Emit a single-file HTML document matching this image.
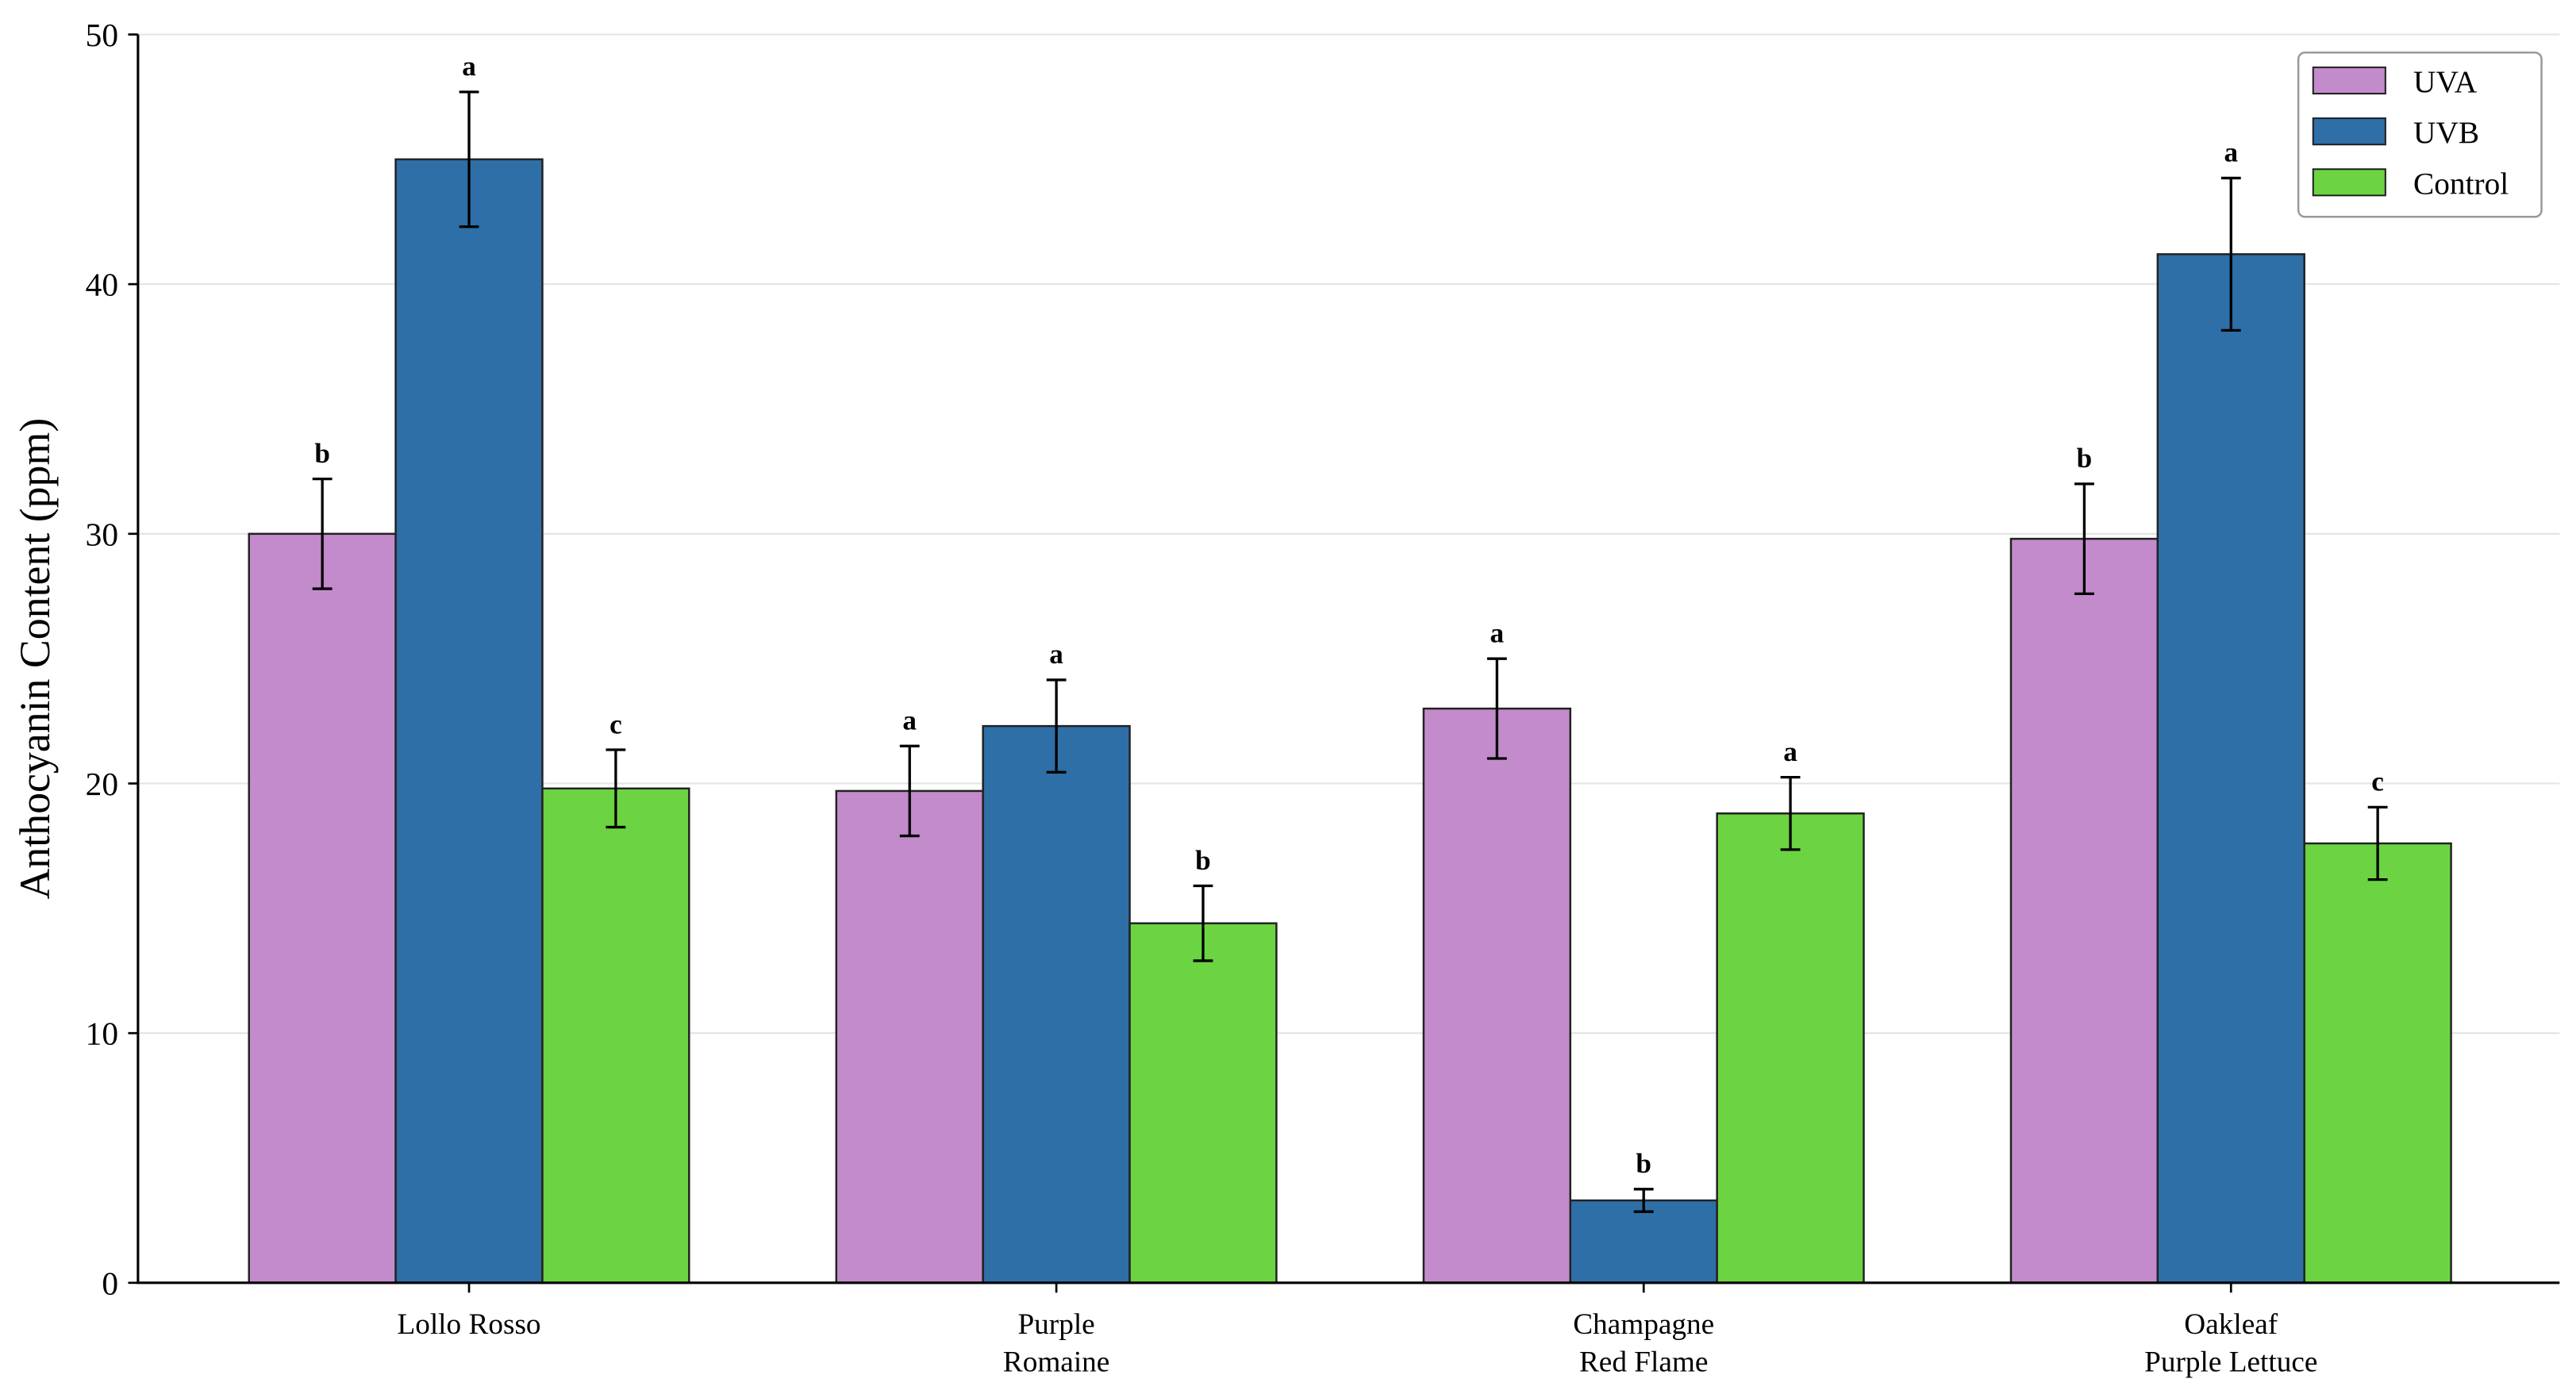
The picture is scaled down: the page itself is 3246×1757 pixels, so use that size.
<!DOCTYPE html>
<html><head><meta charset="utf-8"><style>
html,body{margin:0;padding:0;background:#fff;}
svg{display:block;font-family:"Liberation Serif",serif;}
</style></head><body>
<svg id="chart" width="3246" height="1757" viewBox="0 0 1568 848.7" preserveAspectRatio="none" xmlns="http://www.w3.org/2000/svg"></svg>
<script>
const categories = [["Lollo Rosso"],["Purple","Romaine"],["Champagne","Red Flame"],["Oakleaf","Purple Lettuce"]];
const seriesNames = ["UVA","UVB","Control"];
const uvaValues = [30, 19.7, 23, 29.8];
const uvbValues = [45, 22.3, 3.3, 41.2];
const controlValues = [19.8, 14.4, 18.8, 17.6];
const uvaErrors = [2.2, 1.8, 2.0, 2.2];
const uvbErrors = [2.7, 1.85, 0.45, 3.05];
const controlErrors = [1.55, 1.5, 1.45, 1.45];
const uvaLetters = ["b","a","a","b"];
const uvbLetters = ["a","a","b","a"];
const controlLetters = ["c","b","a","c"];
const yTicks = [0,10,20,30,40,50];

const colors = ["#c38bcb","#2e6fa7","#6cd442"];
const values = [uvaValues, uvbValues, controlValues];
const errors = [uvaErrors, uvbErrors, controlErrors];
const letters = [uvaLetters, uvbLetters, controlLetters];
const svg = document.getElementById('chart');
const NS = "http://www.w3.org/2000/svg";
const x0 = 84, x1 = 1558, yTop = 21, yBot = 781;
const y = v => yBot - (v/50)*(yBot-yTop);
const spacing = 357.5, firstCenter = 285.5, bw = 89.3;
const cx = i => firstCenter + i*spacing;
function mk(tag, attrs){const e=document.createElementNS(NS,tag);for(const k in attrs)e.setAttribute(k,attrs[k]);svg.appendChild(e);return e;}

yTicks.forEach(t=>{
  if(t>0){const g=mk('line',{x1:x0,x2:x1,y1:y(t),y2:y(t),stroke:'#e3e3e3','stroke-width':1});
  
  }
  const tk=mk('line',{x1:x0-6,x2:x0,y1:y(t),y2:y(t),stroke:'#000','stroke-width':1.3});
  
  
  const tl=mk('text',{x:x0-12,y:y(t)+7,'text-anchor':'end','font-size':20});
  tl.textContent=t;
  
  
});

categories.forEach((c,i)=>{
  for(let s=0;s<3;s++){
    const v=values[s][i], e=errors[s][i];
    const bx=cx(i)+(s-1.5)*bw;
    const r=mk('rect',{x:bx,y:y(v),width:bw,height:yBot-y(v),fill:colors[s],stroke:'#222','stroke-width':1.2});
    
    
    const mx=bx+bw/2;
    const el=mk('path',{d:`M${mx},${y(v+e)}V${y(v-e)}M${mx-6},${y(v+e)}H${mx+6}M${mx-6},${y(v-e)}H${mx+6}`,stroke:'#000','stroke-width':1.6,fill:'none'});
    
    
    const lt=mk('text',{x:mx,y:y(v+e)-10,'text-anchor':'middle','font-size':17,'font-weight':'bold'});
    lt.textContent=letters[s][i];
    
    
  }
  const tk=mk('line',{x1:cx(i),x2:cx(i),y1:yBot,y2:yBot+6,stroke:'#000','stroke-width':1.3});
  
  
  c.forEach((line,j)=>{
    const t=mk('text',{x:cx(i),y:yBot+31+j*23,'text-anchor':'middle','font-size':18});
    t.textContent=line;
    
    
  });
});

const ax=mk('path',{d:`M${x0},${yTop}V${yBot}H${x1}`,stroke:'#000','stroke-width':1.5,fill:'none'});


const yl=mk('text',{x:0,y:0,'text-anchor':'middle','font-size':26,transform:`translate(30,${(yTop+yBot)/2}) rotate(-90)`});
yl.textContent='Anthocyanin Content (ppm)';



const lg=mk('rect',{x:1399,y:32,width:148,height:100,rx:4,fill:'#fff',stroke:'#999','stroke-width':1.2});


seriesNames.forEach((n,s)=>{
  const r=mk('rect',{x:1408,y:41+s*31,width:44,height:16,fill:colors[s],stroke:'#222','stroke-width':1});
  
  
  const t=mk('text',{x:1469,y:56+s*31,'font-size':19});
  t.textContent=n;
  
  
});
</script>
</body></html>
